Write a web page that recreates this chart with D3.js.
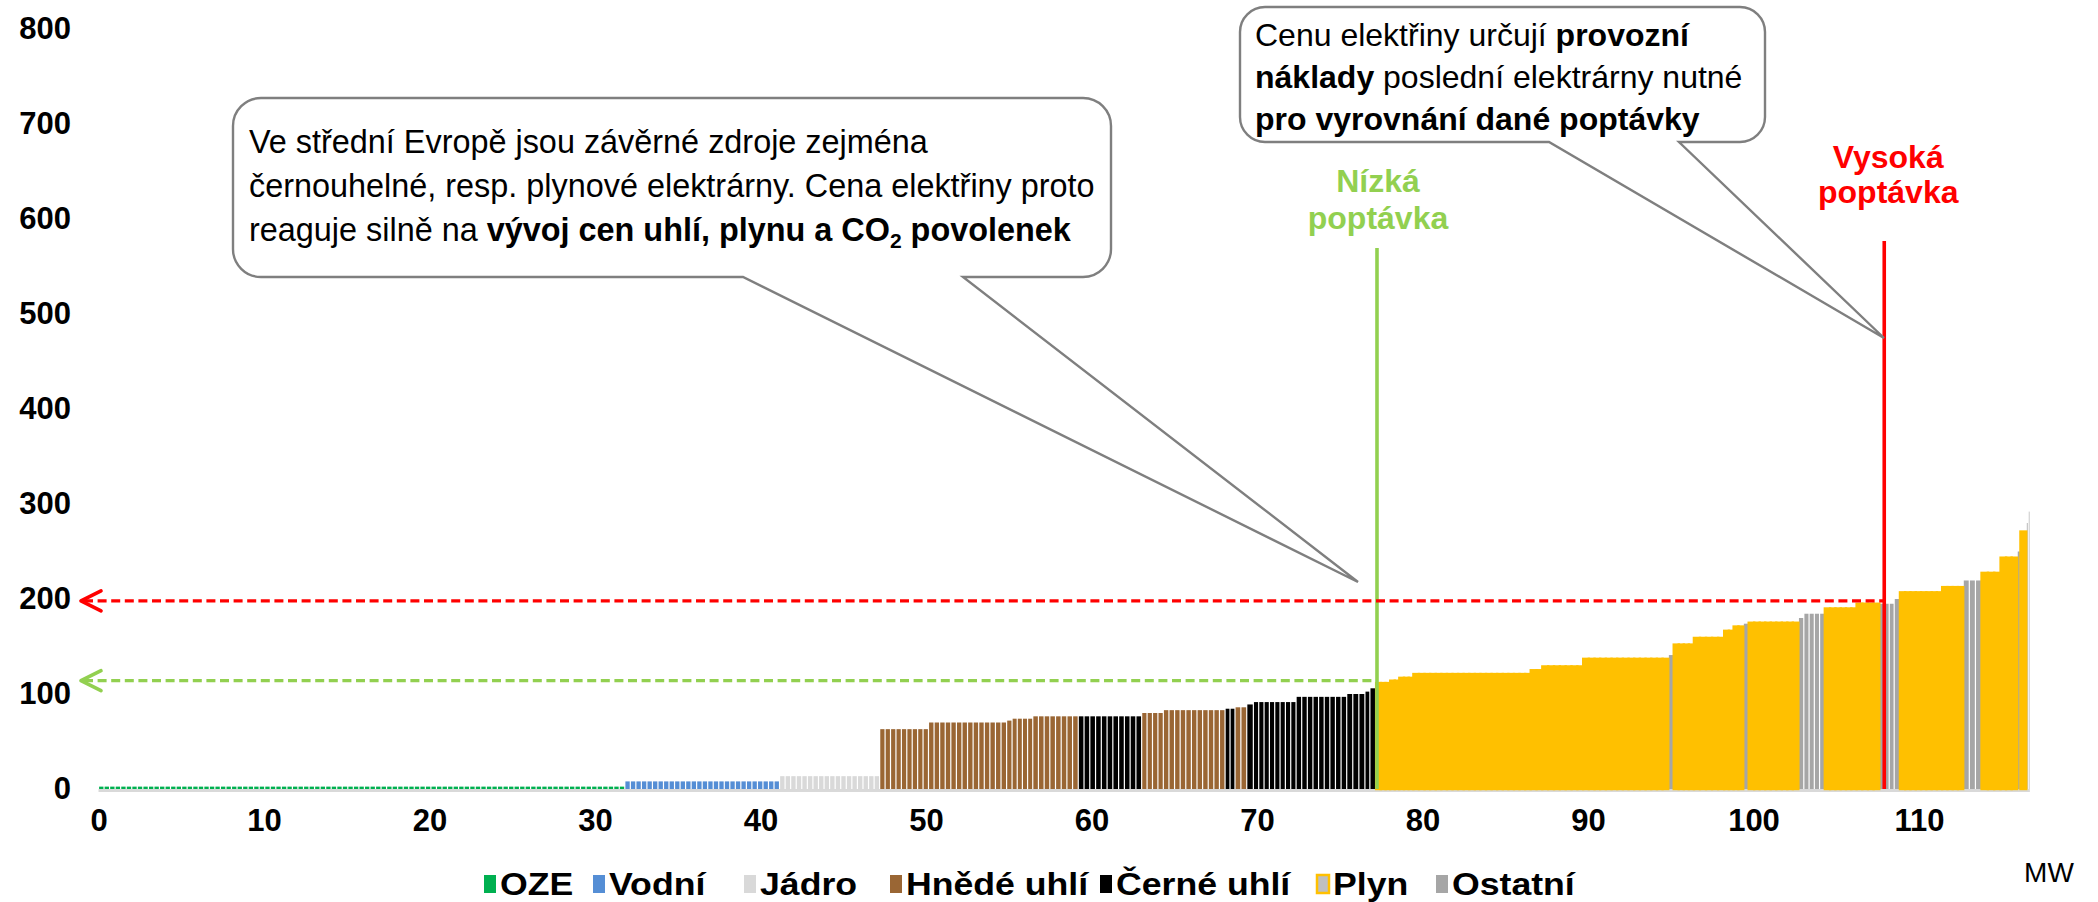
<!DOCTYPE html>
<html lang="cs">
<head>
<meta charset="utf-8">
<title>Merit order – cena elektřiny</title>
<script src="https://cdn.jsdelivr.net/npm/d3@7"></script>
<style>
  html, body { margin: 0; padding: 0; background: #ffffff; }
  svg { display: block; }
  text { font-family: "Liberation Sans", Arial, sans-serif; }
</style>
</head>
<body>
<svg id="chart" width="2098" height="902"></svg>
<script>
// ---- data ---------------------------------------------------------------
// generation sources in legend order
const sources = ["OZE", "Vodní", "Jádro", "Hnědé uhlí", "Černé uhlí", "Plyn", "Ostatní"];

// merit order: [source, capacity (MW), marginal cost], sorted by cost
const meritOrder = [
  ["OZE", 31.8, 2.5],
  ["Vodní", 9.35, 8],
  ["Jádro", 6.05, 13.5],
  ["Hnědé uhlí", 2.95, 63],
  ["Hnědé uhlí", 4.72, 70],
  ["Hnědé uhlí", 0.33, 72],
  ["Hnědé uhlí", 1.25, 74],
  ["Hnědé uhlí", 2.75, 76.5],
  ["Černé uhlí", 3.83, 76.5],
  ["Hnědé uhlí", 1.31, 80],
  ["Hnědé uhlí", 3.73, 83],
  ["Černé uhlí", 0.6, 84.5],
  ["Hnědé uhlí", 0.71, 86],
  ["Černé uhlí", 0.4, 89],
  ["Černé uhlí", 2.58, 91.5],
  ["Černé uhlí", 3.06, 97],
  ["Černé uhlí", 1.1, 100],
  ["Černé uhlí", 0.3, 102.5],
  ["Černé uhlí", 0.38, 106],
  ["Plyn", 0.85, 111.5],
  ["Plyn", 0.55, 114],
  ["Plyn", 0.85, 117],
  ["Plyn", 7.09, 121],
  ["Plyn", 0.7, 125],
  ["Plyn", 2.47, 129],
  ["Plyn", 5.14, 137],
  ["Ostatní", 0.33, 141],
  ["Plyn", 1.22, 152],
  ["Plyn", 1.83, 159],
  ["Plyn", 0.57, 166.5],
  ["Plyn", 0.58, 171],
  ["Ostatní", 0.33, 174],
  ["Plyn", 3.0, 175],
  ["Ostatní", 0.33, 180],
  ["Ostatní", 1.27, 184.5],
  ["Plyn", 1.92, 190],
  ["Plyn", 1.37, 195],
  ["Ostatní", 0.9, 195],
  ["Ostatní", 0.35, 200],
  ["Plyn", 2.55, 207],
  ["Plyn", 1.27, 212.5],
  ["Ostatní", 1.11, 219.5],
  ["Plyn", 1.15, 227.5],
  ["Plyn", 1.0, 243.5],
  ["Ostatní", 0.2, 250],
  ["Plyn", 0.35, 271],
  ["Ostatní", 0.12, 280],
  ["Ostatní", 0.1, 292]
];

// size of one plotted unit (MW)
const unitMW = 1 / 3;

const xTicks = [0, 10, 20, 30, 40, 50, 60, 70, 80, 90, 100, 110];
const yTicks = [0, 100, 200, 300, 400, 500, 600, 700, 800];

// demand levels: quantity (MW) and the resulting clearing price
const lowDemand = { label: ["Nízká", "poptávka"], mw: 77.25, price: 114 };
const highDemand = { label: ["Vysoká", "poptávka"], mw: 107.9, price: 198 };

// ---- styles -------------------------------------------------------------
const fillOf = {
  "OZE": "#00B050",
  "Vodní": "#558ED5",
  "Jádro": "#D9D9D9",
  "Hnědé uhlí": "#9A6634",
  "Černé uhlí": "#000000",
  "Plyn": "#FFC000",
  "Ostatní": "#A6A6A6"
};
const GREEN = "#92D050", RED = "#FF0000", CALLOUT = "#7F7F7F";
const FONT = "'Liberation Sans', Arial, sans-serif";

// ---- scales -------------------------------------------------------------
const svg = d3.select("#chart");
const x = d3.scaleLinear().domain([0, 110]).range([98.5, 1919]);
const y = d3.scaleLinear().domain([0, 800]).range([789, 29]);

// expand every plant block into unit-wide columns
const bars = [];
let cum = 0;
meritOrder.forEach(([src, cap, cost]) => {
  const n = Math.max(1, Math.round(cap / unitMW));
  const w = cap / n;
  for (let i = 0; i < n; i++) {
    bars.push({ src, x0: cum + i * w, x1: cum + (i + 1) * w, cost });
  }
  cum += cap;
});

// category axis line
svg.append("line")
  .attr("x1", x(0)).attr("x2", x(cum))
  .attr("y1", y(0) + 1.5).attr("y2", y(0) + 1.5)
  .attr("stroke", "#D9D9D9").attr("stroke-width", 3);

// columns with white separators
svg.append("g").selectAll("rect")
  .data(bars.filter(d => d.src !== "Plyn"))
  .join("rect")
  .attr("x", d => x(d.x0) + 0.6)
  .attr("width", d => Math.max(0.6, x(d.x1) - x(d.x0) - 1.2))
  .attr("y", d => y(d.cost))
  .attr("height", d => y(0) - y(d.cost))
  .attr("fill", d => fillOf[d.src]);

// gas columns: yellow outline merges them into solid steps
svg.append("g").selectAll("rect")
  .data(bars.filter(d => d.src === "Plyn"))
  .join("rect")
  .attr("x", d => x(d.x0))
  .attr("width", d => x(d.x1) - x(d.x0))
  .attr("y", d => y(d.cost))
  .attr("height", d => y(0) - y(d.cost))
  .attr("fill", fillOf["Plyn"])
  .attr("stroke", fillOf["Plyn"])
  .attr("stroke-width", 2.4);

// ---- axes ---------------------------------------------------------------
const yAxis = svg.append("g")
  .attr("transform", "translate(71,0)")
  .call(d3.axisLeft(y).tickValues(yTicks).tickSize(0).tickPadding(0));
yAxis.select(".domain").remove();
yAxis.selectAll("text")
  .attr("font-size", 31).attr("font-weight", "bold")
  .attr("font-family", FONT)
  .attr("fill", "#000");

const xAxis = svg.append("g")
  .attr("transform", "translate(0,820)")
  .call(d3.axisBottom(x).tickValues(xTicks).tickSize(0).tickPadding(0));
xAxis.select(".domain").remove();
xAxis.selectAll("text")
  .attr("y", 0).attr("dy", "0.35em")
  .attr("font-size", 31).attr("font-weight", "bold")
  .attr("font-family", FONT)
  .attr("fill", "#000");

svg.append("text")
  .attr("x", 2049).attr("y", 872).attr("dy", "0.35em")
  .attr("text-anchor", "middle")
  .attr("font-size", 28).attr("fill", "#000")
  .text("MW");

// ---- demand markers -----------------------------------------------------
function demandMarker(d, color, lineTop, labelX, labelYs) {
  const g = svg.append("g");
  const py = y(d.price);
  const px = x(d.mw);
  g.append("line")
    .attr("x1", 84).attr("x2", px)
    .attr("y1", py).attr("y2", py)
    .attr("stroke", color).attr("stroke-width", 3.2)
    .attr("stroke-dasharray", "9 4.6");
  g.append("path")
    .attr("d", `M${101},${py - 10} L${81},${py} L${101},${py + 10}`)
    .attr("fill", "none").attr("stroke", color)
    .attr("stroke-width", 3.6).attr("stroke-linecap", "round")
    .attr("stroke-linejoin", "round");
  g.append("line")
    .attr("x1", px).attr("x2", px)
    .attr("y1", lineTop).attr("y2", y(0))
    .attr("stroke", color).attr("stroke-width", 3.6);
  d.label.forEach((t, i) => {
    g.append("text")
      .attr("x", px + labelX).attr("y", labelYs[i]).attr("dy", "0.35em")
      .attr("text-anchor", "middle")
      .attr("font-size", 32).attr("font-weight", "bold")
      .attr("fill", color)
      .text(t);
  });
}
demandMarker(lowDemand, GREEN, 248, 1, [181, 218]);
demandMarker(highDemand, RED, 241, 4, [157, 192]);

// ---- callouts -----------------------------------------------------------
function calloutPath(x0, y0, x1, y1, r, wa, wb, tx, ty) {
  return `M${x0 + r},${y0} H${x1 - r} A${r},${r} 0 0 1 ${x1},${y0 + r}` +
    ` V${y1 - r} A${r},${r} 0 0 1 ${x1 - r},${y1} H${wb} L${tx},${ty} L${wa},${y1}` +
    ` H${x0 + r} A${r},${r} 0 0 1 ${x0},${y1 - r} V${y0 + r} A${r},${r} 0 0 1 ${x0 + r},${y0} Z`;
}

function callout(box, lines, fontSize) {
  const g = svg.append("g");
  g.append("path")
    .attr("d", calloutPath(box.x0, box.y0, box.x1, box.y1, box.r, box.wa, box.wb, box.tx, box.ty))
    .attr("fill", "#fff").attr("stroke", CALLOUT).attr("stroke-width", 2.4);
  lines.forEach((parts, i) => {
    const t = g.append("text")
      .attr("x", box.tx0).attr("y", box.ty0 + i * box.lh)
      .attr("dy", "0.35em").attr("font-size", fontSize).attr("fill", "#000");
    parts.forEach(p => {
      const s = t.append("tspan").text(p.t);
      if (p.b) s.attr("font-weight", "bold");
      if (p.sub) s.attr("font-size", fontSize * 0.65).attr("dy", 7);
      if (p.up) s.attr("dy", -7);
    });
  });
}

callout(
  { x0: 233, y0: 98, x1: 1111, y1: 277, r: 28, wa: 743, wb: 963, tx: 1358, ty: 582, tx0: 249, ty0: 142, lh: 44 },
  [
    [{ t: "Ve střední Evropě jsou závěrné zdroje zejména" }],
    [{ t: "černouhelné, resp. plynové elektrárny. Cena elektřiny proto" }],
    [{ t: "reaguje silně na " }, { t: "vývoj cen uhlí, plynu a CO", b: true },
     { t: "2", b: true, sub: true }, { t: " povolenek", b: true, up: true }]
  ], 32.4);

callout(
  { x0: 1240, y0: 7, x1: 1765, y1: 142, r: 25, wa: 1549, wb: 1679, tx: 1884, ty: 338, tx0: 1255, ty0: 35, lh: 42 },
  [
    [{ t: "Cenu elektřiny určují " }, { t: "provozní", b: true }],
    [{ t: "náklady", b: true }, { t: " poslední elektrárny nutné" }],
    [{ t: "pro vyrovnání dané poptávky", b: true }]
  ], 32);

// ---- legend -------------------------------------------------------------
const legendX = [484, 593, 744, 890, 1100, 1317, 1436];
const legend = svg.append("g");
sources.forEach((s, i) => {
  const item = legend.append("g").attr("transform", `translate(${legendX[i]},884)`);
  item.append("rect")
    .attr("x", 0).attr("y", -9).attr("width", 12).attr("height", 18)
    .attr("fill", s === "Plyn" ? "#BFBFBF" : fillOf[s])
    .attr("stroke", s === "Plyn" ? fillOf["Plyn"] : "none")
    .attr("stroke-width", s === "Plyn" ? 2.5 : 0);
  // legend lettering is set slightly wide
  item.append("text")
    .attr("transform", "translate(16,10.5) scale(1.15,1)")
    .attr("font-size", 31).attr("font-weight", "bold").attr("fill", "#000")
    .text(s);
});
</script>
</body>
</html>
